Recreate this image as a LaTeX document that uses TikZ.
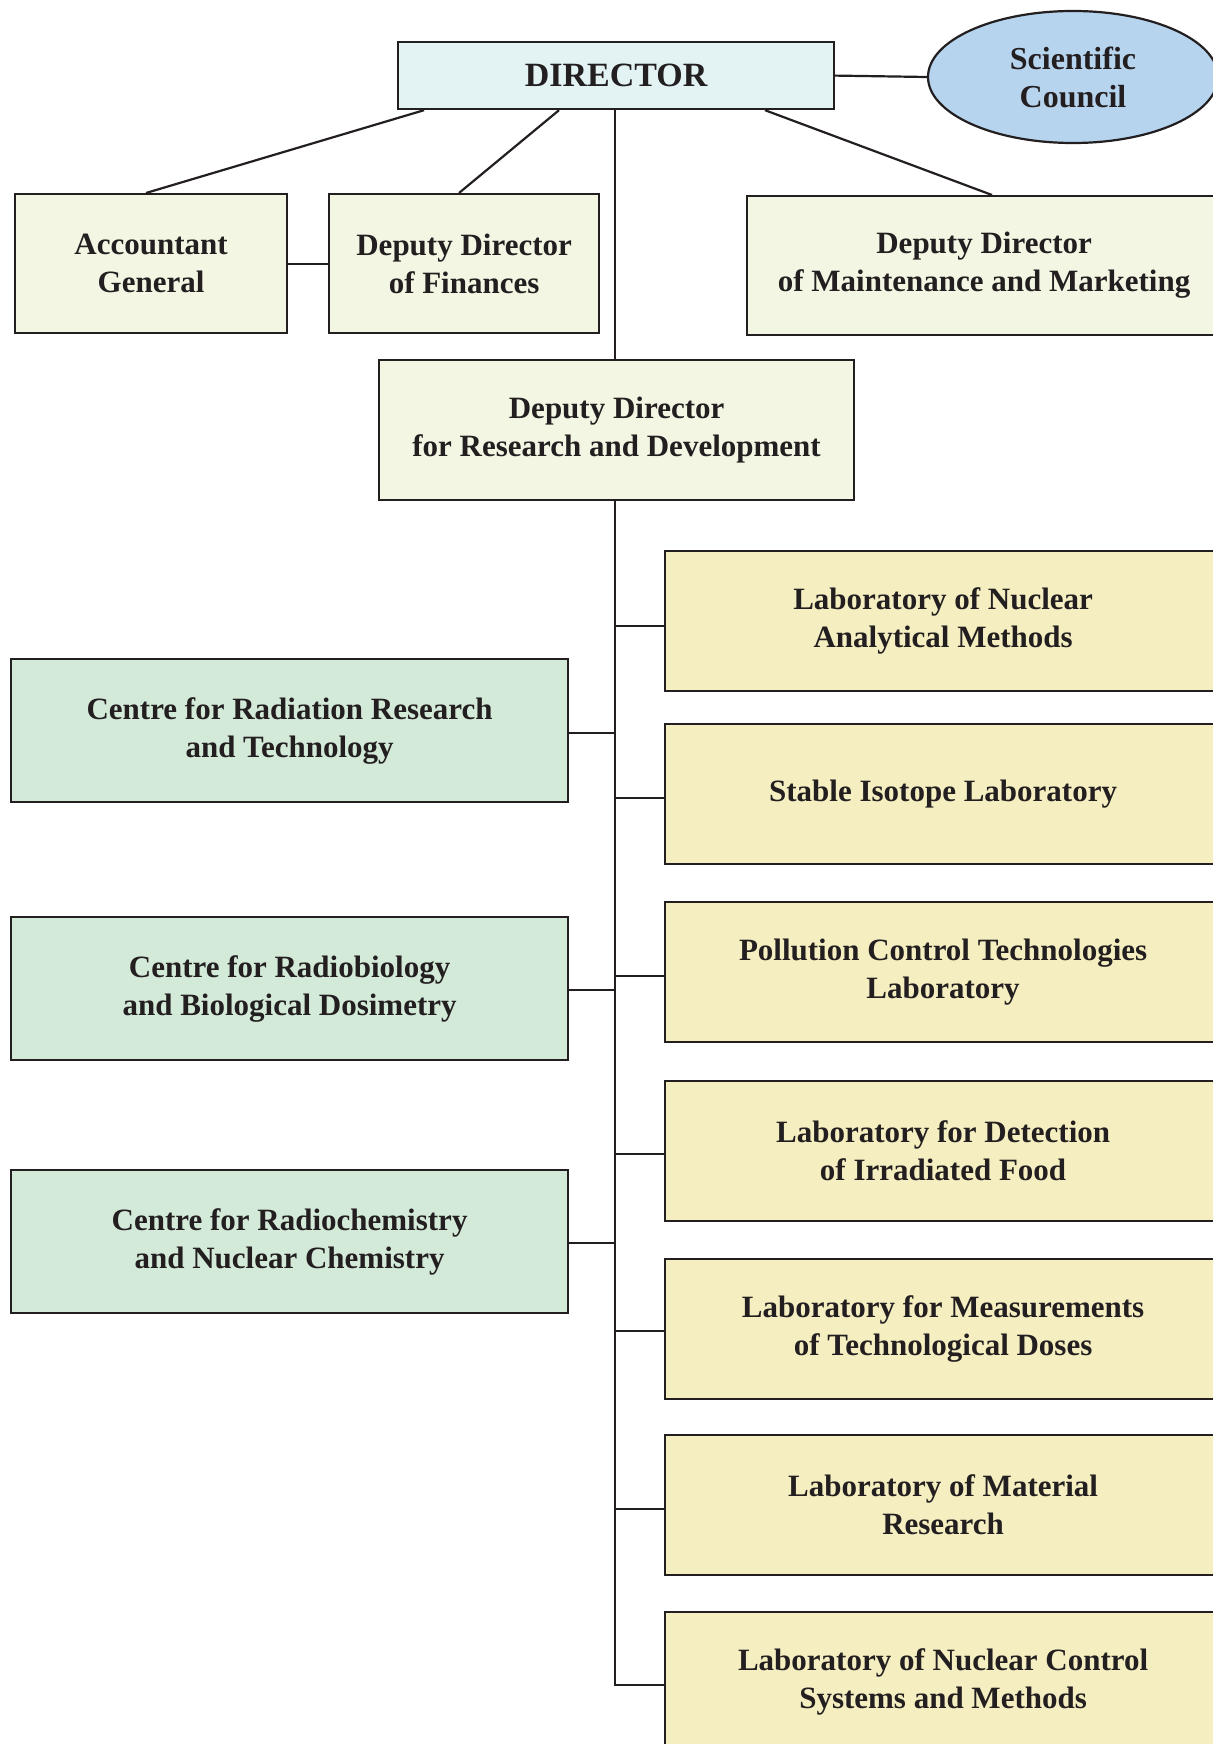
\documentclass[tikz,border=0pt]{standalone}
\usepackage{fontspec}
\setmainfont{Liberation Serif}
\usetikzlibrary{shapes.geometric}
\definecolor{dirfill}{HTML}{E3F3F4}
\definecolor{scfill}{HTML}{B7D4EE}
\definecolor{topfill}{HTML}{F3F6E3}
\definecolor{labfill}{HTML}{F4EEC0}
\definecolor{cenfill}{HTML}{D4EAD9}
\definecolor{ink}{HTML}{231F20}
\tikzset{
  box/.style={draw=ink, line width=2.2pt, anchor=north west, align=center,
    font=\fontsize{31}{38}\selectfont\bfseries, inner sep=0pt, text=ink},
  topbox/.style={box, fill=topfill},
  labbox/.style={box, fill=labfill, minimum width=556pt, minimum height=140pt},
  cenbox/.style={box, fill=cenfill, minimum width=557pt, minimum height=143pt},
  conn/.style={draw=ink, line width=2.2pt},
}
\begin{document}
\begin{tikzpicture}[x=1pt,y=-1pt]
\useasboundingbox (0,0) rectangle (1212,1744);
% top level
\node[box, fill=dirfill, minimum width=436pt, minimum height=67pt,
  font=\fontsize{34}{40}\selectfont\bfseries] (dir) at (397,41) {DIRECTOR};
\node[draw=ink, line width=2.2pt, ellipse, fill=scfill, minimum width=290pt, minimum height=132pt,
  align=center, font=\fontsize{32}{38}\selectfont\bfseries, inner sep=0pt, text=ink]
  (sc) at (1073,77) {Scientific\\Council};
\node[topbox, minimum width=272pt, minimum height=139pt] (acc) at (14,193) {Accountant\\General};
\node[topbox, minimum width=270pt, minimum height=139pt] (fin) at (328,193) {Deputy Director\\of Finances};
\node[topbox, minimum width=474pt, minimum height=139pt] (mnt) at (746,195) {Deputy Director\\of Maintenance and Marketing};
\node[topbox, minimum width=475pt, minimum height=140pt] (rd) at (378,359) {Deputy Director\\for Research and Development};
% labs
\node[labbox] (lab1) at (664,550) {Laboratory of Nuclear\\Analytical Methods};
\node[labbox] (lab2) at (664,723) {Stable Isotope Laboratory};
\node[labbox] (lab3) at (664,901) {Pollution Control Technologies\\Laboratory};
\node[labbox] (lab4) at (664,1080) {Laboratory for Detection\\of Irradiated Food};
\node[labbox] (lab5) at (664,1258) {Laboratory for Measurements\\of Technological Doses};
\node[labbox] (lab6) at (664,1434) {Laboratory of Material\\Research};
\node[labbox] (lab7) at (664,1611) {Laboratory of Nuclear Control\\Systems and Methods};
% centres
\node[cenbox] (cen1) at (10,658) {Centre for Radiation Research\\and Technology};
\node[cenbox] (cen2) at (10,916) {Centre for Radiobiology\\and Biological Dosimetry};
\node[cenbox] (cen3) at (10,1169) {Centre for Radiochemistry\\and Nuclear Chemistry};
% connectors top
\draw[conn] (dir.east) -- (sc.west);
\draw[conn] (acc.east) -- (fin.west);
\draw[conn] (424,0 |- dir.south) -- (146,0 |- acc.north);
\draw[conn] (559,0 |- dir.south) -- (459,0 |- fin.north);
\draw[conn] (765,0 |- dir.south) -- (992,0 |- mnt.north);
\coordinate (dtop) at (615,0 |- dir.south);
\draw[conn] (dtop) -- (dtop |- rd.north);
% trunk
\coordinate (rdb) at (615,0 |- rd.south);
\coordinate (t1) at (615,626);
\coordinate (t2) at (615,798);
\coordinate (t3) at (615,976);
\coordinate (t4) at (615,1154);
\coordinate (t5) at (615,1331);
\coordinate (t6) at (615,1509);
\coordinate (t7) at (615,1685);
\coordinate (c1) at (615,733);
\coordinate (c2) at (615,990);
\coordinate (c3) at (615,1243);
\draw[conn] (rdb) -- (t7) -- (t7 -| lab7.west);
\foreach \t/\l in {t1/lab1,t2/lab2,t3/lab3,t4/lab4,t5/lab5,t6/lab6}
  \draw[conn] (\t) -- (\t -| \l.west);
\foreach \t/\l in {c1/cen1,c2/cen2,c3/cen3}
  \draw[conn] (\t) -- (\t -| \l.east);
\end{tikzpicture}
\end{document}
